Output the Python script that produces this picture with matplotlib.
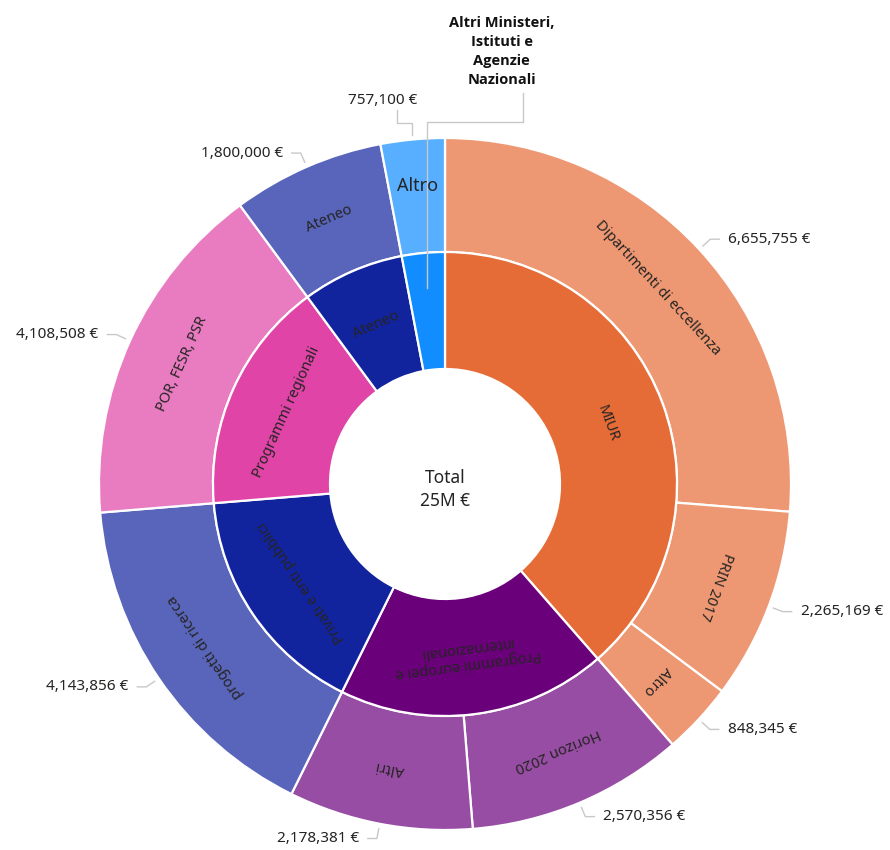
import numpy as np
import matplotlib
matplotlib.use("Agg")
import matplotlib.pyplot as plt
from matplotlib.colors import to_rgb

plt.rcParams['font.family'] = ['Noto Sans', 'DejaVu Sans']

# ---------------- data ----------------
group_names = ["MIUR", "Programmi europei e\ninternazionali", "Privati e enti pubblici",
               "Programmi regionali", "Ateneo",
               "Altri Ministeri,\nIstituti e\nAgenzie\nNazionali"]
group_colors = ["#E66C37", "#6B007B", "#12239E", "#E044A7", "#12239E", "#118DFF"]
item_names = ["Dipartimenti di eccellenza", "PRIN 2017", "Altro", "Horizon 2020", "Altri",
              "progetti di ricerca", "POR, FESR, PSR", "Ateneo", "Altro"]
item_values = [6655755, 2265169, 848345, 2570356, 2178381, 4143856, 4108508, 1800000, 757100]
item_group = [0, 0, 0, 1, 1, 2, 3, 4, 5]
center_title = "Total"
center_value = "25M €"

# ---------------- style ----------------
R_OUT, R_MID, R_IN = 346, 232, 115
TXT = "#252423"
LEAD = "#C8C8C8"
group_label_outside = [False, False, False, False, False, True]
item_label_horizontal = [False] * 8 + [True]

group_values = np.bincount(item_group, weights=item_values)


def lighten(c, f=0.3):
    r, g, b = to_rgb(c)
    return (r + (1 - r) * f, g + (1 - g) * f, b + (1 - b) * f)


item_colors = [lighten(group_colors[g]) for g in item_group]

fig = plt.figure(figsize=(8.9, 8.5), dpi=100)
ax = fig.add_axes([0, 0, 1, 1])

w_out, _ = ax.pie(item_values, radius=R_OUT, colors=item_colors, startangle=90,
                  counterclock=False,
                  wedgeprops=dict(width=R_OUT - R_MID, edgecolor="white", linewidth=1.6))
w_in, _ = ax.pie(group_values, radius=R_MID, colors=group_colors, startangle=90,
                 counterclock=False,
                 wedgeprops=dict(width=R_MID - R_IN, edgecolor="white", linewidth=1.6))

ax.set_xlim(-445, 445)
ax.set_ylim(-366, 484)
ax.set_aspect("equal")
ax.axis("off")


def polar(r, deg):
    a = np.deg2rad(deg)
    return r * np.cos(a), r * np.sin(a)


# outer labels + value labels
for w, name, val, horiz in zip(w_out, item_names, item_values, item_label_horizontal):
    m = 0.5 * (w.theta1 + w.theta2)
    x, y = polar(0.5 * (R_OUT + R_MID), m)
    if horiz:
        ax.text(x, y + 10, name, ha="center", va="center", fontsize=13, color=TXT)
    else:
        ax.text(x, y, name, ha="center", va="center", rotation=m - 90,
                rotation_mode="anchor", fontsize=10.5, color=TXT)
    x0, y0 = polar(R_OUT + 5, m)
    c = np.cos(np.deg2rad(m))
    sn = np.sin(np.deg2rad(m))
    lbl = f"{val:,} €"
    if abs(c) < 0.2 and sn > 0:
        xs = [x0, x0, x0 - 15, x0 - 15]
        ys = [y0, y0 + 12, y0 + 12, y0 + 25]
        ax.plot(xs, ys, color=LEAD, lw=1)
        ax.text(xs[-1] - 14, ys[-1] + 2, lbl, ha="center", va="bottom",
                fontsize=11, color=TXT)
    else:
        s = 1 if c > 0 else -1
        x1, y1 = polar(R_OUT + 15, m)
        xs = [x0, x1, x1 + s * 9]
        ys = [y0, y1, y1]
        ax.plot(xs, ys, color=LEAD, lw=1)
        ax.text(xs[-1] + s * 9, ys[-1], lbl, ha="left" if s > 0 else "right",
                va="center", fontsize=11, color=TXT)

# inner labels
for w, name, outside in zip(w_in, group_names, group_label_outside):
    m = 0.5 * (w.theta1 + w.theta2)
    if outside:
        x0, y0 = polar(R_MID - 35, m)
        y1 = R_OUT + 16
        xs = [x0, x0, x0 + 96, x0 + 96]
        ys = [y0, y1, y1, y1 + 29]
        ax.plot(xs, ys, color=LEAD, lw=1)
        ax.text(xs[-1] - 21, ys[-1] + 6, name, ha="center", va="bottom",
                fontsize=10.5, fontweight="bold", color="#111111", linespacing=1.45,
                family=["Open Sans", "DejaVu Sans"])
    else:
        x, y = polar(0.5 * (R_MID + R_IN), m)
        ax.text(x, y, name, ha="center", va="center", rotation=m - 90,
                rotation_mode="anchor", fontsize=10.5, color=TXT, linespacing=1.15,
                multialignment="center")

ax.text(0, 6, center_title, ha="center", va="center", fontsize=12.5, color=TXT)
ax.text(0, -17, center_value, ha="center", va="center", fontsize=12.5, color=TXT)

fig.savefig("out.png", dpi=100)
